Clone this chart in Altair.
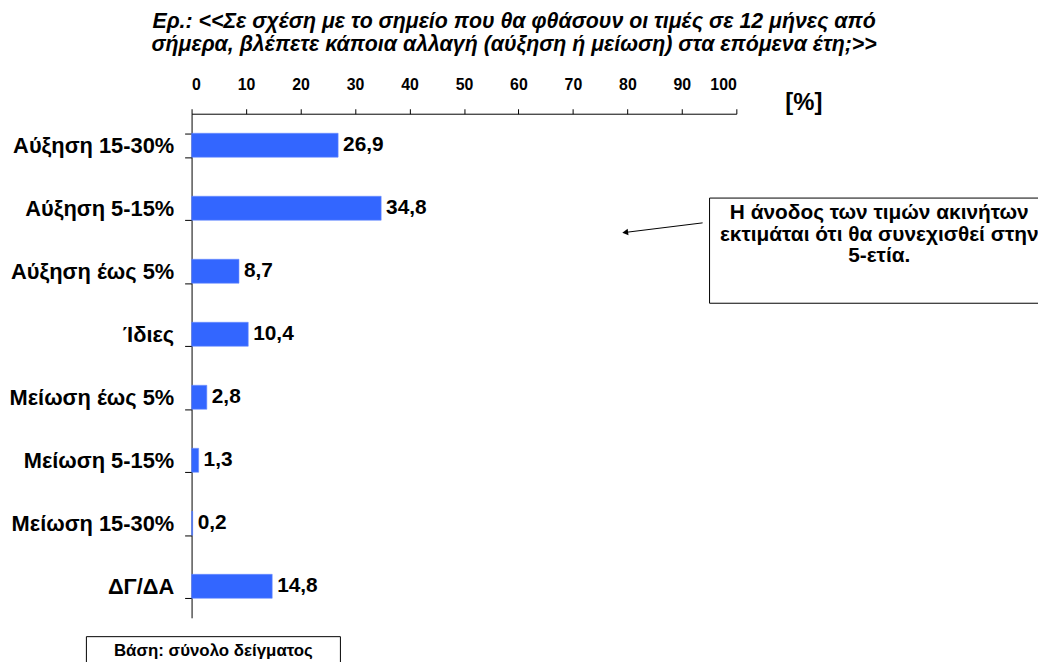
import altair as alt
import pandas as pd

categories = ["Αύξηση 15-30%", "Αύξηση 5-15%", "Αύξηση έως 5%", "Ίδιες",
              "Μείωση έως 5%", "Μείωση 5-15%", "Μείωση 15-30%", "ΔΓ/ΔΑ"]
values = [26.9, 34.8, 8.7, 10.4, 2.8, 1.3, 0.2, 14.8]
value_labels = ["26,9", "34,8", "8,7", "10,4", "2,8", "1,3", "0,2", "14,8"]
x_ticks = [0, 10, 20, 30, 40, 50, 60, 70, 80, 90, 100]

title_lines = ["Ερ.: <<Σε σχέση με το σημείο που θα φθάσουν οι τιμές σε 12 μήνες από",
               "σήμερα, βλέπετε κάποια αλλαγή (αύξηση ή μείωση) στα επόμενα έτη;>>"]
note_lines = ["Η άνοδος των τιμών ακινήτων",
              "εκτιμάται ότι θα συνεχισθεί στην",
              "5-ετία."]
base_text = "Βάση: σύνολο δείγματος"
unit_text = "[%]"

FONT = "Liberation Sans"
BAR = "#3366FF"

df = pd.DataFrame({"cat": categories, "val": values, "lab": value_labels})

W, H = 549, 508

y_enc = alt.Y("cat:N", sort=categories, title=None,
              scale=alt.Scale(paddingInner=0.62, paddingOuter=0.31),
              axis=alt.Axis(labelFontSize=22, labelFontWeight="bold", labelFont=FONT,
                            labelColor="black", tickBand="extent", tickSize=7,
                            tickColor="black", domainColor="black", labelPadding=11,
                            labelLimit=400))
x_enc = alt.X("val:Q", title=None,
              scale=alt.Scale(domain=[0, 100], nice=False),
              axis=alt.Axis(orient="top", values=x_ticks, grid=False, tickSize=5,
                            labelPadding=16, labelFontSize=16, labelFontWeight="bold",
                            labelFont=FONT, labelColor="black", tickColor="black",
                            domainColor="black"))

base = alt.Chart(df)
bars = base.mark_bar(color=BAR, stroke="#6a8cff", strokeWidth=0.6).encode(x=x_enc, y=y_enc)
labels = base.mark_text(align="left", baseline="middle", dx=5, fontSize=21,
                        fontWeight="bold", font=FONT, color="black").encode(
    x=x_enc, y=y_enc, text="lab:N")


def text_line(t, x, y, size, italic=False):
    return alt.Chart(pd.DataFrame({"t": [t]})).mark_text(
        align="center", baseline="middle", fontSize=size, fontWeight="bold",
        fontStyle="italic" if italic else "normal", font=FONT, color="black").encode(
        x=alt.value(x), y=alt.value(y), text="t:N")


title1 = text_line(title_lines[0], 325, -92, 21.5, italic=True)
title2 = text_line(title_lines[1], 325, -69, 21.5, italic=True)
unit = text_line(unit_text, 617, -11, 24)

box = alt.Chart(pd.DataFrame({"a": [0]})).mark_rect(
    fill="white", stroke="black", strokeWidth=1).encode(
    x=alt.value(522), x2=alt.value(1000), y=alt.value(85), y2=alt.value(191))

note1 = text_line(note_lines[0], 693, 100, 21)
note2 = text_line(note_lines[1], 693, 122, 21)
note3 = text_line(note_lines[2], 693, 143, 21)

arrow = alt.Chart(pd.DataFrame({"a": [0]})).mark_rule(color="black", strokeWidth=1).encode(
    x=alt.value(515), x2=alt.value(438), y=alt.value(110), y2=alt.value(119.5))
head = alt.Chart(pd.DataFrame({"a": [0]})).mark_point(
    shape="triangle-left", filled=True, color="black", size=45, angle=353, opacity=1).encode(
    x=alt.value(437), y=alt.value(119.6))

bbox = alt.Chart(pd.DataFrame({"a": [0]})).mark_rect(
    fill="white", stroke="black", strokeWidth=1).encode(
    x=alt.value(-106), x2=alt.value(150), y=alt.value(527), y2=alt.value(600))
btext = text_line(base_text, 22, 541, 17)

chart = alt.layer(bars, labels, title1, title2, unit, box, note1, note2, note3,
                  arrow, head, bbox, btext).properties(
    width=W, height=H,
    background="white",
    autosize=alt.AutoSizeParams(type="none"),
    padding={"left": 185, "top": 104, "right": 1038 - 185 - W, "bottom": 654 - 104 - H},
).configure_view(stroke=None)

chart.save("out.html", embed_options={"renderer": "svg", "actions": False})
